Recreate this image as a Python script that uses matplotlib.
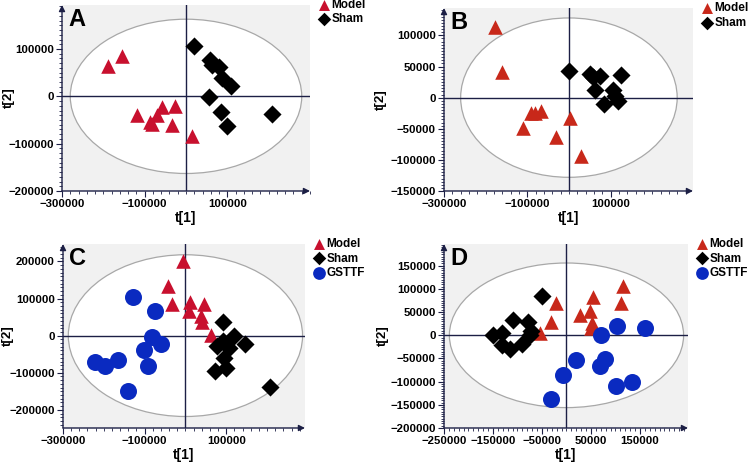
import matplotlib
matplotlib.use("Agg")
import matplotlib.pyplot as plt
from matplotlib.patches import Ellipse
from matplotlib.ticker import AutoMinorLocator

plt.rcParams["font.family"] = ["Liberation Sans", "DejaVu Sans"]
plt.rcParams["font.weight"] = "bold"

NAVY = "#1c1f45"

# ---- Panel A ----
a_model_x = [-189000, -156000, -119000, -87000, -83000, -69000, -57000, -34000, -26000, 15000]
a_model_y = [65000, 85000, -39000, -55000, -58000, -39000, -23000, -60000, -21000, -84000]
a_sham_x = [19000, 57000, 63000, 80000, 88000, 110000, 55000, 85000, 98000, 207000]
a_sham_y = [106000, 77000, 67000, 61000, 39000, 22000, -1000, -34000, -62000, -37000]

# ---- Panel B ----
b_model_x = [-177000, -161000, -90000, -82000, -68000, -111000, -31000, 2000, 28000]
b_model_y = [113000, 41000, -25000, -25000, -22000, -48000, -63000, -33000, -94000]
b_sham_x = [1000, 50000, 74000, 62000, 126000, 106000, 110000, 85000, 117000, 57000]
b_sham_y = [42000, 38000, 35000, 13000, 37000, 12000, 2000, -10000, -6000, 33000]

# ---- Panel C ----
c_model_x = [-6500, -43000, -33000, 10000, 8000, 44500, 38000, 40000, 62000]
c_model_y = [200000, 135000, 86000, 90000, 66000, 86000, 52000, 37000, 3000]
c_sham_x = [93000, 119000, 147000, 78500, 93000, 107700, 95000, 72000, 99600, 208000]
c_sham_y = [37000, 0, -22000, -29000, -15000, -33000, -60000, -94000, -87000, -139000]
c_gsttf_x = [-128000, -75000, -83000, -59000, -102000, -91500, -166000, -198000, -221000, -140000]
c_gsttf_y = [103000, 67000, -4500, -21500, -38600, -82700, -66500, -82700, -72000, -150000]

# ---- Panel D ----
d_model_x = [115000, 112000, 54000, 47500, 28500, 52000, 51000, -21700, -32600, -54000]
d_model_y = [107000, 69000, 82000, 53000, 44000, 27000, 16000, 70000, 28000, 6000]
d_sham_x = [-49500, -108600, -79400, -149000, -132000, -72600, -132000, -115000, -90000, -75000]
d_sham_y = [84500, 34000, 29000, 700, 6000, 9000, -21500, -30000, -19000, 0]
d_gsttf_x = [71000, 103000, 161000, 19000, 78000, 69000, -6800, 102000, 134000, -32000]
d_gsttf_y = [0, 20000, 16500, -53000, -52000, -66000, -86000, -109000, -100000, -138000]

W, H = 750, 463

# axes boxes in pixels: left, top, right, bottom; ylabel right edge in pixels
PANELS = [
    dict(label="A", box=(62, 5, 310, 191), ylab_px=15,
         xlim=(-300000, 300000), ylim=(-200000, 193000),
         xticks=[-300000, -100000, 100000], ystep=100000, ybase=-200000,
         ell=(280000, 163000), model_c="#c8102e",
         groups=[("Model", a_model_x, a_model_y), ("Sham", a_sham_x, a_sham_y)]),
    dict(label="B", box=(444, 8, 693, 191), ylab_px=387,
         xlim=(-300000, 298000), ylim=(-150000, 144000),
         xticks=[-300000, -100000, 100000], ystep=50000, ybase=-150000,
         ell=(260000, 128000), model_c="#c8281a",
         groups=[("Model", b_model_x, b_model_y), ("Sham", b_sham_x, b_sham_y)]),
    dict(label="C", box=(63, 244, 305, 428), ylab_px=14,
         xlim=(-300000, 293000), ylim=(-249000, 247000),
         xticks=[-300000, -100000, 100000], ystep=100000, ybase=-200000,
         ell=(287000, 218000), model_c="#c8102e",
         groups=[("Model", c_model_x, c_model_y), ("Sham", c_sham_x, c_sham_y),
                 ("GSTTF", c_gsttf_x, c_gsttf_y)]),
    dict(label="D", box=(444, 244, 688, 428), ylab_px=389,
         xlim=(-250000, 248000), ylim=(-200000, 197000),
         xticks=[-250000, -150000, -50000, 50000, 150000], ystep=50000, ybase=-200000,
         ell=(239000, 156000), model_c="#c8281a",
         groups=[("Model", d_model_x, d_model_y), ("Sham", d_sham_x, d_sham_y),
                 ("GSTTF", d_gsttf_x, d_gsttf_y)]),
]

STYLE = {"Model": dict(marker="^", s=110),
         "Sham": dict(marker="D", s=85, color="black"),
         "GSTTF": dict(marker="o", s=150, color="#0a2ac0")}

fig = plt.figure(figsize=(W / 100, H / 100), dpi=100)

for p in PANELS:
    l, t, r, b = p["box"]
    ax = fig.add_axes([l / W, 1 - b / H, (r - l) / W, (b - t) / H])
    ax.set_facecolor("#f1f1f1")
    ax.set_xlim(*p["xlim"])
    ax.set_ylim(*p["ylim"])
    ea, eb = p["ell"]
    ax.add_patch(Ellipse((0, 0), 2 * ea, 2 * eb, facecolor="white",
                         edgecolor="#a8a8a8", lw=0.9, zorder=0.5))
    ax.axhline(0, color=NAVY, lw=1.0, zorder=1)
    ax.axvline(0, color=NAVY, lw=1.0, zorder=1)

    for name, xs, ys in p["groups"]:
        st = dict(STYLE[name])
        if name == "Model":
            st["color"] = p["model_c"]
        ax.scatter(xs, ys, label=name, zorder=3, linewidths=0, **st)

    for s in ax.spines.values():
        s.set_visible(False)
    for end in [(0, 1.0), (1.0, 0)]:
        ax.annotate("", xy=end, xytext=(0, 0), xycoords="axes fraction",
                    arrowprops=dict(arrowstyle="-|>", color=NAVY, lw=1.0,
                                    shrinkA=0, shrinkB=0, mutation_scale=9))

    ax.set_xticks(p["xticks"])
    yt = []
    v = p["ybase"]
    while v <= p["ylim"][1]:
        yt.append(v)
        v += p["ystep"]
    ax.set_yticks(yt)
    ax.xaxis.set_minor_locator(AutoMinorLocator(10))
    ax.yaxis.set_minor_locator(AutoMinorLocator(10))
    ax.tick_params(which="major", length=4, width=0.8, color=NAVY,
                   labelsize=8.2, pad=2)
    ax.tick_params(which="minor", length=2, width=0.6, color=NAVY)
    for tl in ax.get_xticklabels() + ax.get_yticklabels():
        tl.set_fontweight("bold")

    ax.set_xlabel("t[1]", fontsize=10, fontweight="bold", labelpad=1)
    ax.set_ylabel("t[2]", fontsize=9.5, fontweight="bold")
    ax.yaxis.set_label_coords((p["ylab_px"] - l) / (r - l), 0.5)
    ax.text(0.025, 0.985, p["label"], transform=ax.transAxes, fontsize=17,
            fontweight="bold", va="top", ha="left")

    ax.legend(loc="upper left", bbox_to_anchor=(1.0, 1.07), frameon=False,
              handletextpad=0.0, labelspacing=0.2, borderaxespad=0.2,
              handlelength=1.2, markerscale=0.75,
              prop=dict(size=8.5, weight="bold"))

fig.savefig("out.png", dpi=100)
